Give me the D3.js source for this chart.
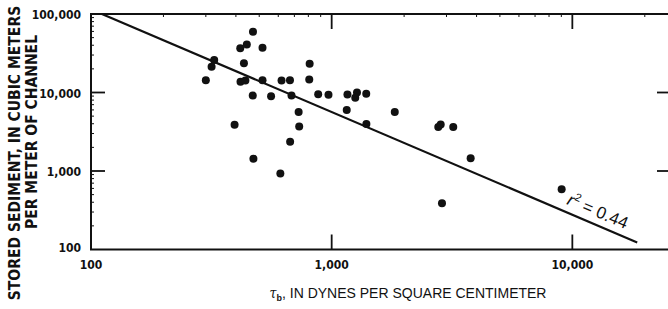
<!DOCTYPE html>
<html>
<head>
<meta charset="utf-8">
<script src="https://cdn.jsdelivr.net/npm/d3@7"></script>
<style>
  body { margin: 0; background: #fff; }
  svg text { font-family: "DejaVu Sans Condensed", "DejaVu Sans", sans-serif; font-stretch: condensed; fill: #111; }
</style>
</head>
<body>
<div id="chart"></div>
<script>
// bed shear stress, dynes per square centimeter
const shear = [471, 417, 444, 516, 325, 317, 432, 810, 300, 418, 438, 516, 619, 671, 807,
               470, 560, 681, 879, 970, 1163, 1274, 1253, 1392, 729, 1155, 395, 733, 1394,
               672, 473, 612, 1829, 2773, 2838, 3200, 3780, 9028, 2873];
// stored sediment, cubic meters per meter of channel
const sediment = [59400, 36500, 41000, 37100, 25850, 21230, 23660, 23190, 14360, 13660, 14230, 14360, 14230, 14360, 14660,
                  9155, 8970, 9155, 9512, 9374, 9456, 10000, 8582, 9654, 5636, 5995, 3880, 3690, 3972,
                  2367, 1436, 932, 5636, 3636, 3903, 3636, 1449, 587, 389];

// fitted line end points
const fitX = [111, 18600];
const fitY = [100000, 123];

const xTicks = [100, 1000, 10000];
const yTicks = [100, 1000, 10000, 100000];
const xTickLabels = ["100", "1,000", "10,000"];
const yTickLabels = ["100", "1,000", "10,000", "100,000"];

let width = 668, height = 309;
let margin = {top: 14, bottom: 60, left: 91, right: -3};

let svg = d3.select('#chart')
    .append('svg')
    .attr('width', width)
    .attr('height', height);

let xScale = d3.scaleLog()
    .domain([100, 25700])
    .range([margin.left, width - margin.right]);

let yScale = d3.scaleLog()
    .domain([100, 100000])
    .range([height - margin.bottom + 0.5, margin.top]);

const x0 = xScale.range()[0], x1 = xScale.range()[1];
const y0 = yScale.range()[0], y1 = yScale.range()[1];

// minor ticks (2..9 of each decade) on left and top
let minorY = [], minorX = [];
[100, 1000, 10000].forEach(d => { for (let k = 2; k <= 9; k++) minorY.push(d * k); });
[100, 1000, 10000].forEach(d => { for (let k = 2; k <= 9; k++) if (d * k < 25700) minorX.push(d * k); });

let ticks = svg.append('g').attr('stroke', '#111');
ticks.selectAll('.my').data(minorY).enter().append('line')
    .attr('x1', x0).attr('x2', x0 + 3)
    .attr('y1', d => yScale(d)).attr('y2', d => yScale(d))
    .attr('stroke-width', 1);
ticks.selectAll('.mx').data(minorX).enter().append('line')
    .attr('x1', d => xScale(d)).attr('x2', d => xScale(d))
    .attr('y1', y1).attr('y2', y1 + 3)
    .attr('stroke-width', 1);

// major ticks, pointing inward on all sides
ticks.selectAll('.bx').data(xTicks.slice(1)).enter().append('line')
    .attr('x1', d => xScale(d)).attr('x2', d => xScale(d))
    .attr('y1', y0).attr('y2', y0 - 15).attr('stroke-width', 1.8);
ticks.selectAll('.tx').data(xTicks.slice(1)).enter().append('line')
    .attr('x1', d => xScale(d)).attr('x2', d => xScale(d))
    .attr('y1', y1).attr('y2', y1 + 15).attr('stroke-width', 1.8);
ticks.selectAll('.ly').data(yTicks.slice(1, 3)).enter().append('line')
    .attr('x1', x0).attr('x2', x0 + 14)
    .attr('y1', d => yScale(d)).attr('y2', d => yScale(d)).attr('stroke-width', 1.8);
ticks.selectAll('.ry').data(yTicks.slice(1, 3)).enter().append('line')
    .attr('x1', x1).attr('x2', x1 - 14)
    .attr('y1', d => yScale(d)).attr('y2', d => yScale(d)).attr('stroke-width', 1.8);

// frame
svg.append('rect')
    .attr('x', x0).attr('y', y1)
    .attr('width', x1 - x0).attr('height', y0 - y1)
    .attr('fill', 'none').attr('stroke', '#111').attr('stroke-width', 2);

// tick labels
svg.selectAll('.xl').data(xTicks).enter().append('text')
    .attr('x', d => xScale(d))
    .attr('y', y0 + 19)
    .attr('text-anchor', 'middle')
    .style('font-size', '12px').style('font-weight', 'bold')
    .text((d, i) => xTickLabels[i]);

svg.selectAll('.yl').data(yTicks).enter().append('text')
    .attr('x', x0 - 10)
    .attr('y', (d, i) => yScale(d) + (i == 0 ? 2 : 5))
    .attr('text-anchor', 'end')
    .style('font-size', '12px').style('font-weight', 'bold')
    .text((d, i) => yTickLabels[i]);

// regression line
let fit = fitX.map((d, i) => [d, fitY[i]]);
svg.append('path')
    .datum(fit)
    .attr('d', d3.line().x(d => xScale(d[0])).y(d => yScale(d[1])))
    .attr('stroke', '#111').attr('stroke-width', 2.2).attr('fill', 'none');

// points
svg.selectAll('circle')
    .data(shear)
    .enter()
    .append('circle')
    .attr('cx', d => xScale(d))
    .attr('cy', (d, i) => yScale(sediment[i]))
    .attr('r', 4)
    .attr('fill', '#111');

// r squared label along the line
let ang = Math.atan2(yScale(fitY[1]) - yScale(fitY[0]), xScale(fitX[1]) - xScale(fitX[0])) * 180 / Math.PI;
let rLab = svg.append('text')
    .attr('transform', `translate(566, 204) rotate(${ang})`)
    .style('font-size', '17px')
    .style('font-family', '"Liberation Sans", Arial, sans-serif');
rLab.append('tspan').style('font-style', 'italic').text('r');
rLab.append('tspan').attr('dy', -7).style('font-size', '11px').text('2');
rLab.append('tspan').attr('dy', 7).text(' = 0.44');

// axis titles
let xt = svg.append('text')
    .attr('x', 408)
    .attr('y', 298)
    .attr('text-anchor', 'middle')
    .style('font-size', '14px')
    .style('font-family', '"Liberation Sans", Arial, sans-serif');
xt.append('tspan').style('font-family', '"DejaVu Serif", serif').style('font-style', 'italic').text('τ');
xt.append('tspan').attr('dy', 3).style('font-size', '9px').style('font-weight', 'bold').text('b');
xt.append('tspan').attr('dy', -3).text(', IN DYNES PER SQUARE CENTIMETER');

svg.append('text')
    .attr('transform', 'translate(20, 153) rotate(-90)')
    .attr('text-anchor', 'middle')
    .style('font-size', '15.5px').style('font-weight', 'bold')
    .text('STORED SEDIMENT, IN CUBIC METERS');
svg.append('text')
    .attr('transform', 'translate(37, 132) rotate(-90)')
    .attr('text-anchor', 'middle')
    .style('font-size', '15.5px').style('font-weight', 'bold')
    .text('PER METER OF CHANNEL');
</script>
</body>
</html>
